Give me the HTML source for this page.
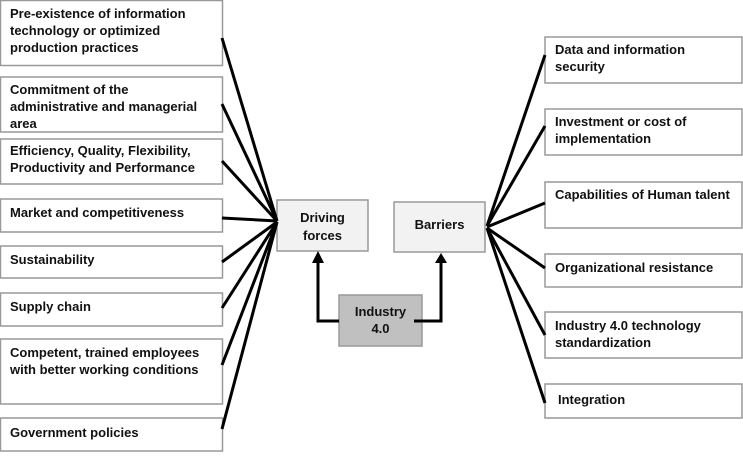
<!DOCTYPE html>
<html><head><style>
body{margin:0;width:743px;height:452px;background:#fff;overflow:hidden}
text{font-family:"Liberation Sans",Arial,sans-serif;font-weight:bold;font-size:13px;fill:#111}
</style></head><body>
<svg width="743" height="452" xmlns="http://www.w3.org/2000/svg">
<g fill="#fff" stroke="#999" stroke-width="1.5">
<rect x="0.5" y="0.5" width="222" height="65"/>
<rect x="0.5" y="77" width="222" height="55"/>
<rect x="0.5" y="139" width="222" height="45"/>
<rect x="0.5" y="199" width="222" height="33"/>
<rect x="0.5" y="246" width="222" height="32"/>
<rect x="0.5" y="293" width="222" height="33"/>
<rect x="0.5" y="339" width="222" height="65"/>
<rect x="0.5" y="418" width="222" height="33"/>
<rect x="545" y="37" width="197" height="46"/>
<rect x="545" y="109" width="197" height="46"/>
<rect x="545" y="182" width="197" height="46"/>
<rect x="545" y="254" width="197" height="33"/>
<rect x="545" y="312" width="197" height="46"/>
<rect x="545" y="384" width="197" height="34"/>
<rect x="277" y="200" width="91" height="51" fill="#f2f2f2"/>
<rect x="394" y="202" width="91" height="50" fill="#f2f2f2"/>
<rect x="339" y="295" width="83" height="51" fill="#c0c0c0"/>
</g>
<g stroke="#000" stroke-width="3" fill="none">
<line x1="222" y1="38" x2="277" y2="221"/>
<line x1="222" y1="104" x2="277" y2="221"/>
<line x1="222" y1="161" x2="277" y2="221"/>
<line x1="222" y1="218" x2="277" y2="221"/>
<line x1="222" y1="262" x2="277" y2="222"/>
<line x1="222" y1="308" x2="277" y2="222"/>
<line x1="222" y1="365" x2="277" y2="222"/>
<line x1="222" y1="429" x2="277" y2="222"/>
<line x1="545" y1="55" x2="487" y2="226"/>
<line x1="545" y1="126" x2="487" y2="226"/>
<line x1="545" y1="203" x2="487" y2="227"/>
<line x1="545" y1="268" x2="487" y2="228"/>
<line x1="545" y1="335" x2="487" y2="228"/>
<line x1="545" y1="403" x2="487" y2="228"/>
<polyline points="339,321 318,321 318,262"/>
<polyline points="414,321 441,321 441,262"/>
</g>
<path d="M312,263 L318,251 L324,263 z" fill="#000"/>
<path d="M435,263 L441,253 L447,263 z" fill="#000"/>
<text x="10" y="18">Pre-existence of information</text>
<text x="10" y="35">technology or optimized</text>
<text x="10" y="52">production practices</text>
<text x="10" y="94">Commitment of the</text>
<text x="10" y="111">administrative and managerial</text>
<text x="10" y="128">area</text>
<text x="10" y="155">Efficiency, Quality, Flexibility,</text>
<text x="10" y="172">Productivity and Performance</text>
<text x="10" y="217">Market and competitiveness</text>
<text x="10" y="264">Sustainability</text>
<text x="10" y="311">Supply chain</text>
<text x="10" y="357">Competent, trained employees</text>
<text x="10" y="374">with better working conditions</text>
<text x="10" y="437">Government policies</text>
<text x="555" y="54">Data and information</text>
<text x="555" y="71">security</text>
<text x="555" y="126">Investment or cost of</text>
<text x="555" y="143">implementation</text>
<text x="555" y="199">Capabilities of Human talent</text>
<text x="555" y="272">Organizational resistance</text>
<text x="555" y="330">Industry 4.0 technology</text>
<text x="555" y="347">standardization</text>
<text x="558" y="404">Integration</text>
<text x="322.5" y="222" text-anchor="middle">Driving</text>
<text x="322.5" y="240" text-anchor="middle">forces</text>
<text x="439.5" y="229" text-anchor="middle">Barriers</text>
<text x="380.5" y="316" text-anchor="middle">Industry</text>
<text x="380.5" y="333" text-anchor="middle">4.0</text>
</svg>
</body></html>
